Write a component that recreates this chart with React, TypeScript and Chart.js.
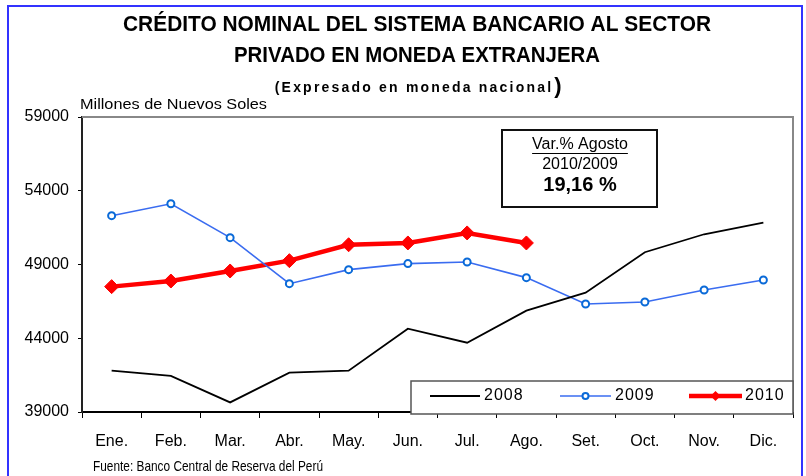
import React, { useEffect, useRef } from "react";
import { Chart, registerables } from "chart.js";

Chart.register(...registerables);

const months = ["Ene.", "Feb.", "Mar.", "Abr.", "May.", "Jun.", "Jul.", "Ago.", "Set.", "Oct.", "Nov.", "Dic."];
const serie2008 = [41800, 41450, 39650, 41670, 41800, 44650, 43700, 45870, 47090, 49830, 51050, 51840];
const serie2009 = [52310, 53120, 50820, 47700, 48650, 49060, 49170, 48110, 46320, 46460, 47270, 47950];
const serie2010: (number | null)[] = [47500, 47880, 48560, 49260, 50340, 50460, 51140, 50460, null, null, null, null];
const seriesNames = ["2008", "2009", "2010"];
const yMin = 39000;
const yMax = 59000;
const yStep = 5000;

const titleLines = ["CRÉDITO NOMINAL DEL SISTEMA BANCARIO AL SECTOR", "PRIVADO EN MONEDA EXTRANJERA"];
const subtitleText = "(Expresado en moneda nacional";
const unitText = "Millones de Nuevos Soles";
const sourceText = "Fuente: Banco Central de Reserva del Perú";
const boxLines = ["Var.% Agosto", "2010/2009", "19,16 %"];

const FONT = "'Liberation Sans', Arial, sans-serif";

function drawText(
  ctx: CanvasRenderingContext2D,
  text: string,
  x: number,
  y: number,
  font: string,
  align: CanvasTextAlign,
  targetW?: number,
  spacing = "0px",
  color = "#000"
) {
  ctx.save();
  ctx.font = font;
  (ctx as any).letterSpacing = spacing;
  ctx.fillStyle = color;
  const w = ctx.measureText(text).width;
  const s = targetW ? targetW / w : 1;
  ctx.translate(x, y);
  ctx.scale(s, 1);
  ctx.textAlign = align;
  ctx.textBaseline = "middle";
  ctx.fillText(text, 0, 0);
  ctx.restore();
  return w * s;
}

const decorPlugin = {
  id: "decor",
  beforeDraw(chart: any) {
    const ctx: CanvasRenderingContext2D = chart.ctx;
    ctx.save();
    ctx.fillStyle = "#fff";
    ctx.fillRect(0, 0, chart.width, chart.height);
    ctx.strokeStyle = "#3333ff";
    ctx.lineWidth = 2;
    ctx.strokeRect(8, 6, 794, 490);
    ctx.restore();

    drawText(ctx, titleLines[0], 417, 25, `bold 22px ${FONT}`, "center", 588);
    drawText(ctx, titleLines[1], 417, 56, `bold 22px ${FONT}`, "center", 366);
    const sw = drawText(ctx, subtitleText, 414, 88, `bold 14px ${FONT}`, "center", undefined, "2.2px");
    drawText(ctx, ")", 414 + sw / 2 + 1, 87, `bold 22px ${FONT}`, "left");
    drawText(ctx, unitText, 80, 105, `14px ${FONT}`, "left", 187);
    drawText(ctx, sourceText, 93, 467, `15px ${FONT}`, "left", 230);
  },
  beforeDatasetsDraw(chart: any) {
    const ctx: CanvasRenderingContext2D = chart.ctx;
    const a = chart.chartArea;
    ctx.save();
    ctx.strokeStyle = "#888";
    ctx.lineWidth = 2;
    ctx.beginPath();
    ctx.moveTo(a.left, a.top);
    ctx.lineTo(a.right, a.top);
    ctx.lineTo(a.right, a.bottom);
    ctx.stroke();
    ctx.restore();
  },
  afterDatasetsDraw(chart: any) {
    const ctx: CanvasRenderingContext2D = chart.ctx;
    ctx.save();
    ctx.fillStyle = "#fff";
    ctx.fillRect(502, 130, 155, 77);
    ctx.strokeStyle = "#111";
    ctx.lineWidth = 2;
    ctx.strokeRect(502, 130, 155, 77);
    ctx.restore();
    const w1 = drawText(ctx, boxLines[0], 580, 145, `16px ${FONT}`, "center");
    ctx.save();
    ctx.strokeStyle = "#000";
    ctx.lineWidth = 1;
    ctx.beginPath();
    ctx.moveTo(580 - w1 / 2, 153.5);
    ctx.lineTo(580 + w1 / 2, 153.5);
    ctx.stroke();
    ctx.restore();
    drawText(ctx, boxLines[1], 580, 165, `16px ${FONT}`, "center");
    drawText(ctx, boxLines[2], 580, 185, `bold 20px ${FONT}`, "center");

    ctx.save();
    ctx.fillStyle = "#fff";
    ctx.fillRect(411, 381, 382, 33);
    ctx.strokeStyle = "#555";
    ctx.lineWidth = 1.5;
    ctx.strokeRect(411, 381, 382, 33);
    const ly = 396;
    const items = [
      { x1: 430, x2: 480, tx: 484 },
      { x1: 560, x2: 611, tx: 615 },
      { x1: 689, x2: 742, tx: 745 },
    ];
    chart.data.datasets.forEach((ds: any, i: number) => {
      const it = items[i];
      ctx.strokeStyle = ds.borderColor;
      ctx.lineWidth = ds.borderWidth;
      ctx.beginPath();
      ctx.moveTo(it.x1, ly);
      ctx.lineTo(it.x2, ly);
      ctx.stroke();
      const cx = (it.x1 + it.x2) / 2;
      if (ds.pointStyle === "circle") {
        ctx.beginPath();
        ctx.arc(cx, ly, 3, 0, Math.PI * 2);
        ctx.fillStyle = ds.pointBackgroundColor;
        ctx.fill();
        ctx.strokeStyle = ds.pointBorderColor;
        ctx.lineWidth = 2;
        ctx.stroke();
      } else if (ds.pointStyle === "rectRot") {
        ctx.beginPath();
        ctx.moveTo(cx, ly - 5);
        ctx.lineTo(cx + 5, ly);
        ctx.lineTo(cx, ly + 5);
        ctx.lineTo(cx - 5, ly);
        ctx.closePath();
        ctx.fillStyle = ds.pointBackgroundColor;
        ctx.fill();
      }
      drawText(ctx, ds.label, it.tx, ly, `16px ${FONT}`, "left", undefined, "1px");
    });
    ctx.restore();
  },
};

export default function App() {
  const ref = useRef<HTMLCanvasElement | null>(null);
  useEffect(() => {
    if (!ref.current) return;
    const chart = new Chart(ref.current, {
      type: "line",
      data: {
        labels: months,
        datasets: [
          {
            label: seriesNames[0],
            data: serie2008,
            borderColor: "#000000",
            borderWidth: 1.8,
            pointRadius: 0,
            pointStyle: false as any,
            tension: 0,
          },
          {
            label: seriesNames[1],
            data: serie2009,
            borderColor: "#3a6cf0",
            borderWidth: 1.6,
            pointStyle: "circle",
            pointRadius: 3.5,
            pointBackgroundColor: "#ffffff",
            pointBorderColor: "#0a6ad8",
            pointBorderWidth: 2,
            tension: 0,
          },
          {
            label: seriesNames[2],
            data: serie2010,
            borderColor: "#ff0000",
            borderWidth: 4.5,
            pointStyle: "rectRot",
            pointRadius: 7,
            pointBackgroundColor: "#ff0000",
            pointBorderColor: "#ff0000",
            pointBorderWidth: 1,
            tension: 0,
          },
        ],
      },
      options: {
        animation: false,
        responsive: false,
        layout: { padding: { left: 0, right: 13, top: 117, bottom: 0 } },
        plugins: { legend: { display: false }, tooltip: { enabled: false }, title: { display: false } },
        scales: {
          x: {
            type: "category",
            offset: true,
            grid: { offset: true, drawOnChartArea: false, drawTicks: true, tickLength: 6, color: "#000", lineWidth: 1 },
            border: { display: true, color: "#000", width: 2 },
            ticks: { color: "#000", font: { family: FONT, size: 16 }, padding: 14, maxRotation: 0, autoSkip: false },
            afterFit: (s: any) => {
              s.height = 64;
            },
          },
          y: {
            min: yMin,
            max: yMax,
            grid: { drawOnChartArea: false, drawTicks: true, tickLength: 4, color: "#000" },
            border: { display: true, color: "#222", width: 2 },
            ticks: {
              stepSize: yStep,
              color: "#000",
              font: { family: FONT, size: 16 },
              padding: 9,
              callback: (v: any) => String(v),
            },
            afterFit: (s: any) => {
              s.width = 82;
            },
          },
        },
      },
      plugins: [decorPlugin],
    });
    return () => chart.destroy();
  }, []);
  return (
    <div style={{ position: "fixed", left: 0, top: 0, width: 806, height: 476, background: "#fff" }}>
      <canvas ref={ref} width={806} height={476} />
    </div>
  );
}
